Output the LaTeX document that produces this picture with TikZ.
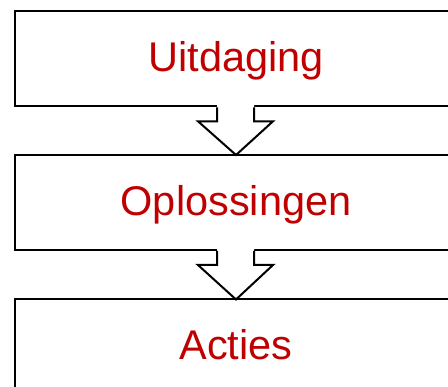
\documentclass[tikz,border=0pt]{standalone}
\usepackage{fontspec}
\setmainfont{Liberation Sans}
\usetikzlibrary{calc}
\definecolor{titlered}{HTML}{C00000}
\tikzset{
  stage/.style={draw=black, line width=2pt, fill=white, minimum width=443pt,
    minimum height=95pt, inner sep=0pt, text=titlered,
    text height=30pt, text depth=4pt,
    font=\fontsize{41.5}{44}\selectfont},
  flowfill/.style={fill=white, draw=none},
  flowline/.style={draw=black, line width=2pt, line join=miter}
}
\newcommand{\flowarrow}[2]{%
  % hollow block arrow from the bottom of #1 to the top of #2
  \fill[flowfill] ($(#1.south)+(-19pt,4pt)$) -- ($(#1.south)+(-19pt,-14pt)$)
    -- ($(#1.south)+(-38pt,-14pt)$) -- (#2.north) -- ($(#1.south)+(37pt,-14pt)$)
    -- ($(#1.south)+(18pt,-14pt)$) -- ($(#1.south)+(18pt,4pt)$) -- cycle;
  \draw[flowline] ($(#1.south)+(-19pt,0pt)$) -- ($(#1.south)+(-19pt,-14pt)$)
    -- ($(#1.south)+(-38pt,-14pt)$) -- ($(#2.north)+(0,-1pt)$) -- ($(#1.south)+(37pt,-14pt)$)
    -- ($(#1.south)+(18pt,-14pt)$) -- ($(#1.south)+(18pt,0pt)$);
}
\begin{document}
\begin{tikzpicture}[x=1pt,y=-1pt]
  \useasboundingbox (0,0) rectangle (448,387);
  \node[stage] (b1) at (236,58.8) {Uitdaging};
  \node[stage] (b2) at (236,202.5) {Oplossingen};
  \node[stage] (b3) at (236,347) {Acties};
  \flowarrow{b1}{b2}
  \flowarrow{b2}{b3}
\end{tikzpicture}
\end{document}
